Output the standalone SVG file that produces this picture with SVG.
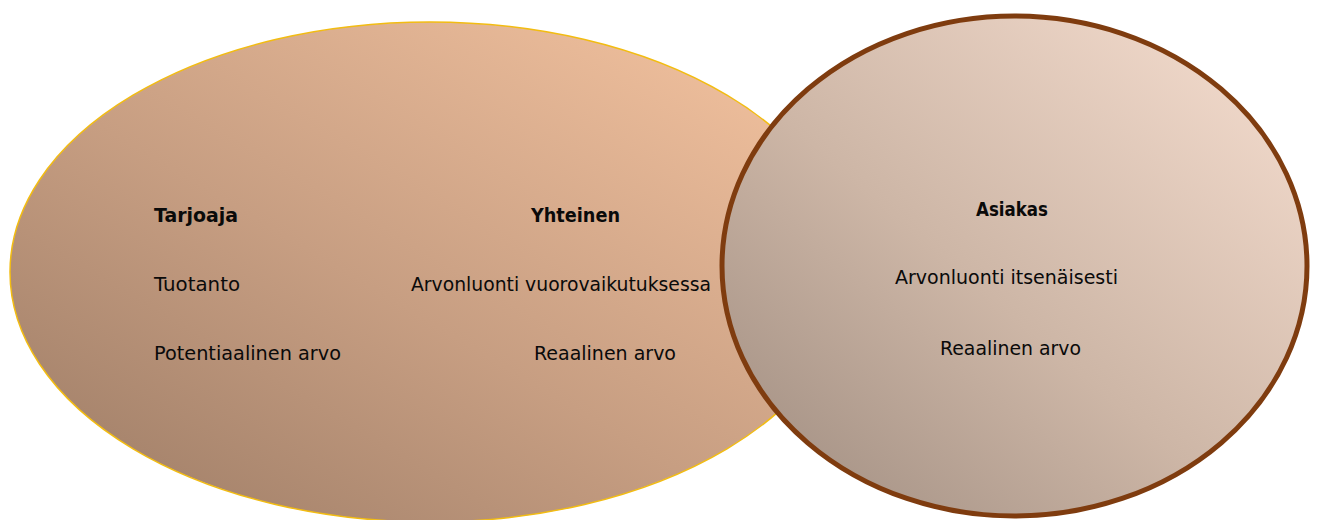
<svg xmlns="http://www.w3.org/2000/svg" width="1319" height="520" viewBox="0 0 1319 520">
  <defs>
    <linearGradient id="gradProvider" x1="0" y1="1" x2="1" y2="0">
      <stop offset="0" stop-color="#9a7a64"/>
      <stop offset="0.45" stop-color="#c79e82"/>
      <stop offset="1" stop-color="#f8c6a2"/>
    </linearGradient>
    <linearGradient id="gradCustomer" x1="0" y1="1" x2="1" y2="0">
      <stop offset="0" stop-color="#9c8a7e"/>
      <stop offset="0.45" stop-color="#cdb6a6"/>
      <stop offset="1" stop-color="#f8e0d2"/>
    </linearGradient>
    <style>
      text { font-family: "DejaVu Sans", "Liberation Sans", sans-serif; font-size: 19.5px; fill: #0a0a0a; }
      .title { font-weight: bold; }
    </style>
  </defs>

  <!-- Provider area -->
  <g id="provider">
    <ellipse cx="430" cy="272" rx="420" ry="250" fill="url(#gradProvider)" stroke="#f2bc12" stroke-width="1.5"/>
    <text class="title" x="154" y="222" textLength="84" lengthAdjust="spacingAndGlyphs">Tarjoaja</text>
    <text x="154" y="291" textLength="86" lengthAdjust="spacingAndGlyphs">Tuotanto</text>
    <text x="154" y="360" textLength="187" lengthAdjust="spacingAndGlyphs">Potentiaalinen arvo</text>
  </g>

  <!-- Shared value creation column -->
  <g id="shared">
    <text class="title" x="531" y="222" textLength="89" lengthAdjust="spacingAndGlyphs">Yhteinen</text>
    <text x="411" y="291" textLength="300" lengthAdjust="spacingAndGlyphs">Arvonluonti vuorovaikutuksessa</text>
    <text x="534" y="360" textLength="142" lengthAdjust="spacingAndGlyphs">Reaalinen arvo</text>
  </g>

  <!-- Customer -->
  <g id="customer">
    <ellipse cx="1014.5" cy="266" rx="292.5" ry="250" fill="url(#gradCustomer)" stroke="#7f3c0f" stroke-width="5"/>
    <text class="title" x="976" y="216" textLength="72" lengthAdjust="spacingAndGlyphs">Asiakas</text>
    <text x="895" y="284" textLength="223" lengthAdjust="spacingAndGlyphs">Arvonluonti itsenäisesti</text>
    <text x="940" y="355" textLength="141" lengthAdjust="spacingAndGlyphs">Reaalinen arvo</text>
  </g>

  <g id="connectors"/>
</svg>
